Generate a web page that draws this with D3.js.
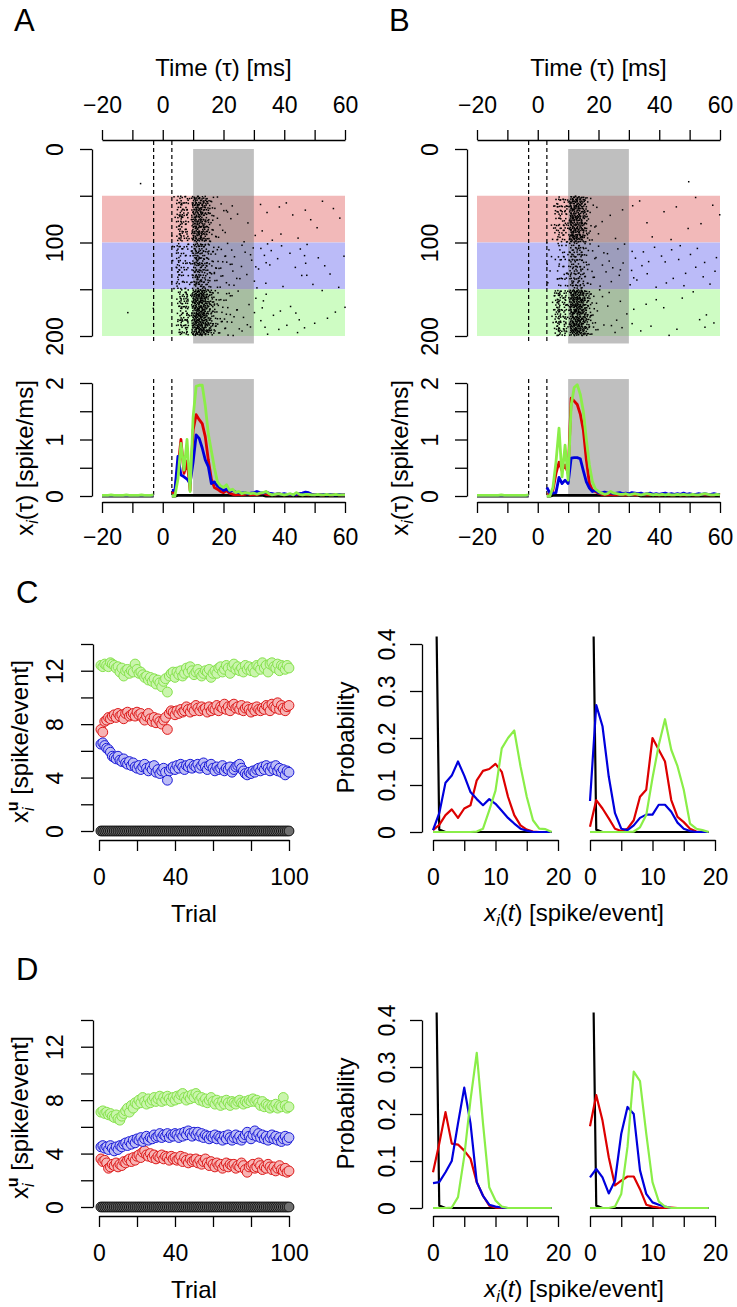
<!DOCTYPE html>
<html><head><meta charset="utf-8">
<script src="https://cdn.jsdelivr.net/npm/d3@7"></script>
<style>
body{margin:0;background:#fff}
text{font-family:"Liberation Sans",Arial,Helvetica,sans-serif;fill:#000}
</style></head>
<body><svg id="fig" width="737" height="1307" xmlns="http://www.w3.org/2000/svg"></svg>
<script>
// ================= DATA =================
// PSTH time bins (ms); null = blanked window around the stimulus
const timeBins = d3.range(-20, 61);
const N = null;
// Panel A PSTH (spike/ms), times -20..60
const psthA_red = [0.01,0.01,0.01,0.01,0.01,0.01,0.01,0.01,0.01,0.01,0.01,0.01,0.01,0.01,0.01,0.01,0.01,0.01, N,N,N,N,N,
  0.05,0.08,0.5,1.0,0.4,0.62,0.1,
  1.17,1.44,1.35,1.28,1.05,0.64,0.3,0.15,0.12,0.08,
  0.06,0.1,0.05,0.03,0.02,0.03,0.02,0.03,0.04,0.02,
  0.03,0.02,0.04,0.05,0.03,0.02,0.03,0.02,0.04,0.03,
  0.02,0.03,0.02,0.03,0.02,0.04,0.02,0.03,0.02,0.03,
  0.02,0.03,0.02,0.02,0.03,0.02,0.02,0.03,0.02,0.02, 0.02];
const psthA_blue = [0.01,0.01,0.01,0.01,0.01,0.01,0.01,0.01,0.01,0.01,0.01,0.01,0.01,0.01,0.01,0.01,0.01,0.01, N,N,N,N,N,
  0.1,0.1,0.7,0.37,0.34,0.3,0.22,
  0.6,1.08,1.02,0.85,0.64,0.52,0.22,0.25,0.18,0.14,
  0.1,0.12,0.08,0.1,0.07,0.06,0.05,0.06,0.04,0.05,
  0.06,0.08,0.06,0.05,0.07,0.05,0.04,0.03,0.04,0.03,
  0.04,0.03,0.03,0.02,0.03,0.04,0.05,0.07,0.06,0.03,
  0.02,0.03,0.02,0.03,0.02,0.03,0.02,0.02,0.03,0.02, 0.02];
const psthA_green = [0.01,0.01,0.01,0.02,0.01,0.01,0.01,0.01,0.02,0.01,0.01,0.01,0.01,0.02,0.01,0.01,0.01,0.02, N,N,N,N,N,
  0.0,0.0,0.3,0.93,0.46,1.0,0.08,
  1.4,1.94,1.96,1.96,1.6,1.1,0.8,0.5,0.25,0.18,
  0.15,0.2,0.1,0.12,0.06,0.08,0.04,0.06,0.05,0.04,
  0.05,0.03,0.05,0.06,0.08,0.04,0.02,0.03,0.04,0.03,
  0.02,0.03,0.04,0.02,0.06,0.03,0.02,0.03,0.03,0.02,
  0.02,0.03,0.02,0.02,0.03,0.02,0.02,0.03,0.02,0.02, 0.02];
const psthA_black = [0,0,0,0,0,0,0,0,0,0,0,0,0,0,0,0,0,0, N,N,N,N,N,
  0,0,0.01,0.01,0.01,0.01,0.01,
  0.01,0.01,0.01,0.01,0.01,0.01,0.01,0.01,0.01,0.01,
  0.01,0.01,0.01,0.01,0.01,0.01,0.01,0.01,0.01,0.01,
  0.01,0.01,0.01,0.01,0,0,0,0,0,0,
  0,0,0,0,0,0,0,0,0,0,
  0,0,0,0,0,0,0,0,0,0, 0];
// Panel B PSTH
const psthB_red = [0.01,0.01,0.01,0.01,0.01,0.01,0.01,0.01,0.01,0.01,0.01,0.01,0.01,0.01,0.01,0.01,0.01,0.01, N,N,N,N,N,
  0.02,0.03,0.1,0.4,0.6,0.45,0.55,
  0.4,1.73,1.68,1.62,1.45,1.17,0.64,0.22,0.1,0.08,
  0.05,0.03,0.02,0.02,0.03,0.02,0.02,0.03,0.02,0.02,
  0.02,0.03,0.02,0.02,0.03,0.02,0.02,0.02,0.03,0.02,
  0.02,0.02,0.03,0.02,0.02,0.02,0.03,0.02,0.02,0.02,
  0.03,0.02,0.02,0.02,0.03,0.02,0.02,0.02,0.02,0.03, 0.02];
const psthB_blue = [0.01,0.01,0.01,0.01,0.01,0.01,0.01,0.01,0.01,0.01,0.01,0.01,0.01,0.01,0.01,0.01,0.01,0.01, N,N,N,N,N,
  0.15,0.05,0.05,0.06,0.33,0.22,0.28,
  0.22,0.67,0.68,0.68,0.66,0.45,0.25,0.14,0.08,0.1,
  0.06,0.05,0.07,0.05,0.06,0.04,0.05,0.06,0.04,0.05,
  0.04,0.06,0.05,0.04,0.05,0.03,0.04,0.05,0.03,0.04,
  0.03,0.04,0.05,0.03,0.04,0.03,0.04,0.03,0.05,0.03,
  0.04,0.03,0.03,0.04,0.03,0.04,0.03,0.03,0.04,0.03, 0.03];
const psthB_green = [0.01,0.01,0.01,0.01,0.01,0.01,0.01,0.01,0.02,0.01,0.01,0.01,0.01,0.01,0.01,0.01,0.01,0.02, N,N,N,N,N,
  0.0,0.0,0.15,0.6,1.2,0.34,0.9,
  0.28,1.6,1.92,1.97,1.8,1.5,1.0,0.55,0.25,0.12,
  0.08,0.05,0.03,0.04,0.08,0.05,0.04,0.03,0.03,0.04,
  0.02,0.03,0.04,0.03,0.02,0.03,0.04,0.03,0.02,0.03,
  0.02,0.03,0.02,0.03,0.02,0.02,0.03,0.02,0.03,0.02,
  0.02,0.03,0.02,0.02,0.03,0.04,0.03,0.02,0.02,0.03, 0.02];
const psthB_black = psthA_black;
// isolated spikes in the silent (black) units, [time ms, unit]
const straySpikesA = [[-7.3, 37], [-11.5, 175]];
const straySpikesB = [[49.7, 35]];

// Trial-by-trial mean response (spike/event), trials 1..100
const trials = d3.range(1, 101);
const trialC_green = [12.4,12.3,12.5,12.4,12.3,12.6,12.5,12.4,12.2,12.3,
  11.9,12.2,11.6,12.0,12.1,11.8,12.0,11.9,12.5,12.1,
  11.8,11.9,11.7,11.5,11.6,11.3,11.5,11.2,11.4,11.0,
  11.3,11.1,10.8,11.2,11.4,10.4,11.6,11.8,11.9,11.5,
  11.9,11.7,12.0,11.6,11.8,12.2,11.9,12.3,12.0,11.7,
  11.9,12.1,11.8,11.6,11.8,12.0,11.9,12.1,11.5,11.8,
  12.0,11.8,12.2,12.3,11.9,12.1,12.4,12.2,11.8,12.3,
  12.5,12.1,12.3,12.0,12.2,11.9,12.4,12.1,12.3,12.0,
  12.2,11.9,12.4,12.3,12.1,12.6,12.2,12.4,11.9,12.5,
  12.6,12.3,12.2,12.5,12.0,12.4,12.3,12.1,12.4,12.2];
const trialC_red = [7.6,7.4,8.2,8.3,8.5,8.4,8.6,8.7,8.5,8.8,
  8.6,8.7,8.4,8.8,8.9,8.6,8.7,8.8,8.6,8.9,
  8.7,8.8,8.5,8.3,8.6,8.8,8.4,8.2,8.5,8.1,
  8.4,8.2,8.0,8.3,8.5,7.6,8.8,9.0,8.9,8.7,
  9.0,8.8,9.1,8.9,9.0,9.3,9.1,8.9,9.2,9.0,
  9.4,9.2,9.0,9.3,9.1,9.2,8.9,9.3,9.0,9.2,
  9.1,9.4,9.0,9.3,9.2,9.5,9.1,9.3,9.0,9.4,
  9.5,9.2,9.3,9.1,9.4,9.0,9.2,9.3,9.1,8.9,
  9.2,9.0,9.3,9.1,9.0,9.2,9.1,9.4,9.3,9.0,
  9.5,9.3,9.2,9.6,9.1,9.4,9.2,9.0,9.3,9.4];
const trialC_blue = [6.5,6.6,6.4,6.2,6.1,5.9,5.6,5.5,5.4,5.6,
  5.3,5.2,5.4,5.1,5.0,5.2,4.9,5.1,4.8,4.7,
  4.9,4.6,4.8,5.0,4.7,4.5,4.8,4.6,4.9,4.4,
  4.6,4.3,4.5,4.7,4.4,3.8,4.5,4.7,4.8,4.6,
  4.9,4.7,5.0,4.8,4.6,4.9,4.8,5.0,4.7,4.9,
  4.8,5.0,4.7,4.9,5.1,4.8,4.6,4.9,5.0,4.7,
  4.5,4.8,4.6,4.7,4.9,4.5,4.7,4.6,4.8,4.4,
  4.6,4.8,4.9,5.0,4.7,4.5,4.3,4.2,4.4,4.3,
  4.5,4.4,4.6,4.7,4.5,4.8,4.6,4.9,4.7,4.5,
  4.8,4.6,4.9,4.5,4.7,4.4,4.6,4.2,4.5,4.4];
const trialC_black = [0,0,0,0,0,0,0,0,0,0, 0,0,0,0,0,0,0,0,0,0, 0,0,0,0,0,0,0,0,0,0,
  0,0,0,0,0,0,0,0,0,0, 0,0,0,0,0,0,0,0,0,0, 0,0,0,0,0,0,0,0,0,0,
  0,0,0,0,0,0,0,0,0,0, 0,0,0,0,0,0,0,0,0,0, 0,0,0,0,0,0,0,0,0,0, 0,0,0,0,0,0,0,0,0,0];
const trialD_green = [7.1,7.2,7.0,7.1,6.9,7.0,6.8,6.7,6.9,6.6,
  6.5,6.8,7.0,7.2,7.4,7.1,7.6,7.4,7.8,7.7,
  8.0,7.8,8.2,7.9,7.7,8.1,7.8,8.0,8.2,7.9,
  8.1,8.3,7.9,8.2,8.0,8.3,8.1,7.9,8.2,8.0,
  8.3,8.1,8.4,8.5,8.2,8.0,8.3,8.1,8.4,8.2,
  8.5,8.3,8.0,8.2,7.9,8.1,7.8,8.0,8.2,7.9,
  7.7,8.0,7.8,7.6,7.9,7.7,8.0,7.8,7.6,7.9,
  7.8,7.7,7.9,8.0,7.8,7.7,7.9,7.8,8.0,7.9,
  8.1,7.9,8.0,7.8,7.6,7.9,7.5,7.7,7.6,7.4,
  7.6,7.5,7.7,7.4,7.6,7.5,8.2,7.6,7.4,7.5];
const trialD_blue = [4.5,4.6,4.4,4.5,4.3,4.6,4.4,4.2,4.5,4.3,
  4.6,4.5,4.7,4.8,4.6,4.9,4.7,5.0,4.8,5.1,
  5.0,5.2,4.9,5.1,5.3,5.0,5.2,5.1,5.4,5.2,
  5.3,5.5,5.2,5.4,5.3,5.5,5.2,5.4,5.3,5.5,
  5.4,5.2,5.5,5.3,5.6,5.4,5.7,5.5,5.3,5.6,
  5.4,5.6,5.3,5.5,5.2,5.4,5.3,5.1,5.3,5.2,
  5.4,5.1,5.3,5.2,5.0,5.3,5.1,5.4,5.2,5.0,
  5.2,5.4,5.1,5.3,5.0,5.2,5.4,5.6,5.3,5.1,
  5.4,5.7,5.3,5.5,5.2,5.4,5.1,5.3,5.0,5.2,
  5.4,5.1,5.3,5.0,5.2,4.9,5.1,5.3,5.0,5.2];
const trialD_red = [3.6,3.4,3.5,3.3,2.9,3.0,3.2,3.1,3.3,3.0,
  3.2,3.1,3.4,3.3,3.5,3.6,3.4,3.7,3.5,3.8,
  3.9,3.7,4.1,4.2,3.9,3.8,4.0,3.7,3.9,3.6,
  3.8,3.7,3.9,3.6,3.8,3.7,3.5,3.8,3.6,3.7,
  3.5,3.6,3.8,3.4,3.7,3.5,3.3,3.6,3.4,3.5,
  3.6,3.3,3.5,3.2,3.4,3.6,3.3,3.1,3.4,3.2,
  3.0,3.3,3.1,3.2,2.9,3.1,3.3,3.0,3.2,3.1,
  3.2,2.9,3.1,3.0,3.3,3.1,2.8,2.6,3.0,3.1,
  3.2,2.9,3.0,3.3,3.1,2.8,3.0,2.9,3.2,3.0,
  2.8,3.0,2.7,2.9,3.1,2.8,2.7,2.9,2.6,2.7];
const trialD_black = trialC_black;

// Response distributions, x = 0..19 spike/event
const countBins = d3.range(0, 20);
const histBlack = [0.99,0.005,0,0,0,0,0,0,0,0,0,0,0,0,0,0,0,0,0,0];
const histC1_red   = [0.004,0.015,0.036,0.048,0.03,0.05,0.057,0.11,0.13,0.134,0.145,0.128,0.075,0.036,0.014,0.005,0.001,0,0,0];
const histC1_blue  = [0.004,0.04,0.105,0.12,0.15,0.12,0.085,0.07,0.057,0.07,0.06,0.045,0.03,0.018,0.007,0.003,0,0,0,0];
const histC1_green = [0,0,0,0,0,0,0,0.001,0.007,0.046,0.088,0.178,0.2,0.216,0.14,0.075,0.025,0.007,0.006,0];
const histC2_red   = [0.011,0.068,0.05,0.029,0.007,0.002,0.007,0.025,0.075,0.09,0.2,0.175,0.15,0.068,0.032,0.021,0.007,0.001,0,0];
const histC2_blue  = [0.066,0.27,0.225,0.118,0.04,0.007,0.004,0.014,0.03,0.037,0.037,0.058,0.058,0.043,0.02,0.007,0.002,0,0,0];
const histC2_green = [0,0,0,0,0,0,0,0.001,0.01,0.036,0.115,0.185,0.24,0.175,0.14,0.09,0.018,0.007,0.004,0];
const histD1_red   = [0.076,0.137,0.204,0.137,0.135,0.122,0.105,0.055,0.026,0.005,0.001,0,0,0,0,0,0,0,0,0];
const histD1_blue  = [0.053,0.055,0.076,0.1,0.18,0.256,0.18,0.055,0.026,0.007,0.003,0.001,0,0,0,0,0,0,0,0];
const histD1_green = [0,0,0,0.001,0.023,0.11,0.23,0.33,0.18,0.044,0.016,0.003,0,0,0,0,0,0,0,0];
const histD2_red   = [0.174,0.24,0.186,0.108,0.048,0.058,0.067,0.067,0.04,0.007,0.003,0.001,0,0.001,0,0,0,0,0,0];
const histD2_blue  = [0.065,0.083,0.065,0.031,0.058,0.158,0.215,0.2,0.08,0.03,0.012,0.007,0.003,0,0,0,0,0,0,0];
const histD2_green = [0,0,0,0,0.003,0.03,0.13,0.29,0.27,0.158,0.055,0.014,0.003,0,0,0,0,0,0,0];

// tick values / labels
const timeTicks = [-20,-10,0,10,20,30,40,50,60];
const timeLabels = [-20,0,20,40,60];
const unitTicks = [0,50,100,150,200];
const unitLabels = [0,100,200];
const rateTicks = [0,0.5,1,1.5,2];
const rateLabels = [0,1,2];
const respTicks = [0,2,4,6,8,10,12,14];
const respLabels = [0,4,8,12];
const trialTicks = [0,20,40,60,80,100];
const trialLabels = [0,40,100];
const probTicks = [0,0.1,0.2,0.3,0.4];
const countTicks = [0,5,10,15,20];
const countLabels = [0,10,20];

// ================= STYLE =================
const COL = {red:"#dd0000", blue:"#0000dd", green:"#8aee48", black:"#000000"};
const BAND = {red:"#f2b9b9", blue:"#bbbbf8", green:"#cefcc3"};
const PT = {
  green:{fill:"#caf5ad", stroke:"#86e24c"},
  red:{fill:"#f7b4b4", stroke:"#dd1a1a"},
  blue:{fill:"#bcbcf5", stroke:"#1a1ad8"},
  black:{fill:"#707070", stroke:"#111"}
};
const FT = 23, FTITLE = 24, FLET = 31;
const minus = d => d < 0 ? "\u2212" + Math.abs(d) : String(d);

const svg = d3.select("#fig");

function styleAxis(g){
  g.attr("font-family",'"Liberation Sans",Arial,sans-serif').attr("font-size",FT);
  g.selectAll("path.domain").attr("stroke","#000").attr("stroke-width",1.3);
  g.selectAll(".tick line").attr("stroke","#000").attr("stroke-width",1.3);
  g.selectAll("text").attr("fill","#000");
}
function axisBottomAt(scale, y, ticks, labels, fmt, labelY){
  const ax = d3.axisBottom(scale).tickValues(ticks).tickSize(11).tickSizeOuter(0)
    .tickFormat(d => labels.includes(d) ? fmt(d) : "");
  const g = svg.append("g").attr("transform",`translate(0,${y})`).call(ax);
  g.selectAll("text").attr("y", labelY).attr("dy", null);
  styleAxis(g);
}
function axisTopAt(scale, y, ticks, labels, fmt, labelY){
  const ax = d3.axisTop(scale).tickValues(ticks).tickSize(10).tickSizeOuter(0)
    .tickFormat(d => labels.includes(d) ? fmt(d) : "");
  const g = svg.append("g").attr("transform",`translate(0,${y})`).call(ax);
  g.selectAll("text").attr("y", labelY).attr("dy", null);
  styleAxis(g);
}
function axisLeftAt(scale, x, ticks, labels, fmt, off){
  const ax = d3.axisLeft(scale).tickValues(ticks).tickSize(12).tickSizeOuter(0)
    .tickFormat(d => labels.includes(d) ? fmt(d) : "");
  const g = svg.append("g").attr("transform",`translate(${x},0)`).call(ax);
  g.selectAll("text").attr("x", null).attr("dy", null).attr("text-anchor","middle")
    .attr("transform",`translate(${-off},0) rotate(-90)`);
  styleAxis(g);
}
function rotLabel(x, y, build){
  const t = svg.append("text").attr("transform",`translate(${x},${y}) rotate(-90)`)
    .attr("text-anchor","middle").attr("font-size",FTITLE);
  build(t);
}
function letter(s, x, y){
  svg.append("text").attr("x",x).attr("y",y).attr("font-size",FLET).text(s);
}

// Halton low-discrepancy coordinate (deterministic placement inside a bin)
function halton(i, b){ let f = 1, r = 0; while (i > 0){ f /= b; r += f*(i % b); i = Math.floor(i/b); } return r; }
// raster spikes derived from the PSTH of each group: count per bin = (rate - baseline) x K,
// spread inside each 1-ms bin and across the group's 50 units
function spikesFromPsth(psth, rowStart, K, base, seed){
  const out = []; let acc = 0;
  timeBins.forEach((t,i) => {
    const r = psth[i]; if (r == null) return;
    acc += Math.max(0, r - base)*K;
    let k = 0;
    while (acc >= 1){
      acc -= 1;
      const j = seed + i*7919 + (k++)*131 + 1;
      const u = halton(j, 2), v = halton(j, 3);
      let tt = t - 0.5 + u;
      if (t > 0) tt = Math.max(3, tt); else tt = Math.min(-3, tt);
      tt = Math.max(-20, Math.min(60, tt));
      out.push({t: tt, row: rowStart + 0.5 + v*49});
    }
  });
  return out;
}

// ================= PANELS A / B =================
function timePanel(x0, psth, stray, L){
  const xs = d3.scaleLinear([-20,60],[x0, x0+243]);
  const yR = d3.scaleLinear([0,200],[149,336]);
  const yP = d3.scaleLinear([0,2],[496,383]);
  const axX = x0 - 10;

  letter(L, x0 - 88, 31);
  svg.append("text").attr("x",(xs(-20)+xs(60))/2).attr("y",76).attr("text-anchor","middle")
    .attr("font-size",FTITLE).text("Time (\u03c4) [ms]");

  // bands
  const groups = [{k:"red",a:50,b:100},{k:"blue",a:100,b:150},{k:"green",a:150,b:200}];
  groups.forEach(g => svg.append("rect").attr("x",xs(-20)).attr("width",xs(60)-xs(-20))
    .attr("y",yR(g.a)).attr("height",yR(g.b)-yR(g.a)).attr("fill",BAND[g.k]));
  // analysis window
  svg.append("rect").attr("x",xs(10)).attr("width",xs(30)-xs(10))
    .attr("y",yR(0)).attr("height",yR(208)-yR(0)).attr("fill","#808080").attr("fill-opacity",0.5);
  // spikes
  let spikes = [];
  groups.forEach((g,gi) => { spikes = spikes.concat(spikesFromPsth(psth[g.k], g.a, 36, 0.012, gi*100003 + (L === "B" ? 50021 : 0))); });
  stray.forEach(s => spikes.push({t:s[0], row:s[1]}));
  svg.append("g").selectAll("rect").data(spikes).join("rect")
    .attr("x", d => xs(d.t)-0.75).attr("y", d => yR(d.row)-0.75)
    .attr("width",1.5).attr("height",1.5).attr("fill","#000");
  // stimulus marks
  [-3,3].forEach(v => svg.append("line").attr("x1",xs(v)).attr("x2",xs(v))
    .attr("y1",141).attr("y2",yR(208)).attr("stroke","#000").attr("stroke-width",1.2)
    .attr("stroke-dasharray","4,3"));
  axisTopAt(xs, 140, timeTicks, timeLabels, minus, -27);
  axisLeftAt(yR, axX, unitTicks, unitLabels, String, 29);

  // PSTH
  svg.append("rect").attr("x",xs(10)).attr("width",xs(30)-xs(10))
    .attr("y",yP(2.07)).attr("height",yP(-0.01)-yP(2.07)).attr("fill","#808080").attr("fill-opacity",0.5);
  [-3,3].forEach(v => svg.append("line").attr("x1",xs(v)).attr("x2",xs(v))
    .attr("y1",yP(2.07)).attr("y2",yP(0)).attr("stroke","#000").attr("stroke-width",1.2)
    .attr("stroke-dasharray","4,3"));
  const line = d3.line().defined(d => d.v != null).x(d => xs(d.t)).y(d => yP(d.v));
  ["black","red","blue","green"].forEach(k => {
    const pts = timeBins.map((t,i) => ({t, v: psth[k][i]}));
    svg.append("path").attr("d", line(pts)).attr("fill","none").attr("stroke",COL[k])
      .attr("stroke-width",2.8).attr("stroke-linejoin","round");
  });
  axisLeftAt(yP, axX, rateTicks, rateLabels, String, 29);
  axisBottomAt(xs, 502, timeTicks, timeLabels, minus, 43);
  rotLabel(axX - 59, 458, t => {
    t.append("tspan").text("x");
    t.append("tspan").attr("font-style","italic").attr("font-size",16).attr("dy",5).text("i");
    t.append("tspan").attr("dy",-5).text("(\u03c4) [spike/ms]");
  });
}
timePanel(102, {red:psthA_red, blue:psthA_blue, green:psthA_green, black:psthA_black}, straySpikesA, "A");
timePanel(477, {red:psthB_red, blue:psthB_blue, green:psthB_green, black:psthB_black}, straySpikesB, "B");

// ================= PANELS C / D =================
function trialPanel(y0, y14, axisY, data, hists, L, letterY){
  const xT = d3.scaleLinear([0,100],[99,289]);
  const yS = d3.scaleLinear([0,14],[y0,y14]);
  letter(L, 16, letterY);
  ["green","red","blue","black"].forEach(k => {
    svg.append("g").selectAll("circle").data(trials).join("circle")
      .attr("cx", d => xT(d)).attr("cy", (d,i) => yS(data[k][i])).attr("r",4.9)
      .attr("fill",PT[k].fill).attr("stroke",PT[k].stroke).attr("stroke-width",1);
  });
  axisLeftAt(yS, 93, respTicks, respLabels, String, 30);
  axisBottomAt(xT, axisY, trialTicks, trialLabels, String, 45);
  svg.append("text").attr("x",(xT(0)+xT(100))/2).attr("y",axisY+82).attr("text-anchor","middle")
    .attr("font-size",FTITLE).text("Trial");
  rotLabel(28, (y0+y14)/2 + 4, t => {
    t.append("tspan").text("x");
    t.append("tspan").attr("font-style","italic").attr("font-size",16).attr("dy",6).text("i");
    t.append("tspan").attr("font-weight","bold").attr("font-size",16).attr("dx",-4).attr("dy",-16).text("u");
    t.append("tspan").attr("dy",10).text(" [spike/event]");
  });

  // distributions
  const yH = d3.scaleLinear([0,0.4],[y0+1,y14]);
  hists.forEach((h,hi) => {
    const x1 = hi === 0 ? 433 : 590;
    const xH = d3.scaleLinear([0,20],[x1, x1+125]);
    const cid = `clip${L}${hi}`;
    svg.append("clipPath").attr("id",cid).append("rect")
      .attr("x",xH(-0.8)).attr("width",xH(20.8)-xH(-0.8))
      .attr("y",yH(0.416)).attr("height",yH(-0.02)-yH(0.416));
    const gl = svg.append("g").attr("clip-path",`url(#${cid})`);
    const line = d3.line().x(d => xH(d.x)).y(d => yH(d.p));
    ["black","red","blue","green"].forEach(k => {
      const pts = countBins.map((x,i) => ({x, p: h[k][i]}));
      gl.append("path").attr("d", line(pts)).attr("fill","none").attr("stroke",COL[k])
        .attr("stroke-width",2.2).attr("stroke-linejoin","round");
    });
    axisBottomAt(xH, axisY, countTicks, countLabels, String, 45);
  });
  axisLeftAt(yH, 422, probTicks, probTicks, String, 27);
  rotLabel(354, (y0+y14)/2, t => t.text("Probability"));
  svg.append("text").attr("x",574).attr("y",axisY+81).attr("text-anchor","middle")
    .attr("font-size",FTITLE).call(t => {
      t.append("tspan").attr("font-style","italic").text("x");
      t.append("tspan").attr("font-style","italic").attr("font-size",16).attr("dy",5).text("i");
      t.append("tspan").attr("dy",-5).text("(");
      t.append("tspan").attr("font-style","italic").text("t");
      t.append("tspan").text(") [spike/event]");
    });
}
trialPanel(831, 644, 840,
  {green:trialC_green, red:trialC_red, blue:trialC_blue, black:trialC_black},
  [{black:histBlack, red:histC1_red, blue:histC1_blue, green:histC1_green},
   {black:histBlack, red:histC2_red, blue:histC2_blue, green:histC2_green}], "C", 603);
trialPanel(1207, 1020, 1216,
  {green:trialD_green, red:trialD_red, blue:trialD_blue, black:trialD_black},
  [{black:histBlack, red:histD1_red, blue:histD1_blue, green:histD1_green},
   {black:histBlack, red:histD2_red, blue:histD2_blue, green:histD2_green}], "D", 980);
</script>
</body></html>
